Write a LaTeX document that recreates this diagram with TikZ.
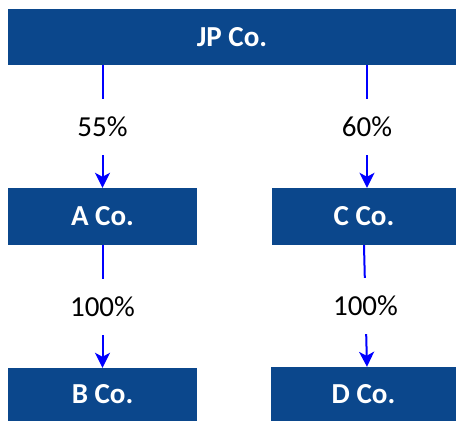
\documentclass[tikz,border=0pt]{standalone}
\usepackage{fontspec}
\setmainfont{Carlito}
\usetikzlibrary{arrows.meta}
\definecolor{boxblue}{RGB}{11,71,140}
\definecolor{linkblue}{RGB}{0,0,255}
\begin{document}
\begin{tikzpicture}[x=1pt,y=-1pt,
  company/.style={fill=boxblue, draw=none, text=white, inner sep=0pt,
    font=\fontsize{29}{32}\selectfont\bfseries},
  conn/.style={draw=linkblue, line width=2pt,
    -{Stealth[length=15pt,width=15pt,inset=4pt]}},
  pct/.style={fill=white, inner sep=0pt, minimum width=70pt, minimum height=56pt,
    text=black, font=\fontsize{29}{32}\selectfont}]
  \useasboundingbox (0,0) rectangle (456,421);
  % ownership boxes
  \node[company, minimum width=448pt, minimum height=56pt] (jp) at (232,37) {JP Co.};
  \node[company, minimum width=189pt, minimum height=57pt] (a) at (102.5,216.5) {A Co.};
  \node[company, minimum width=184pt, minimum height=57pt] (c) at (364,216.5) {C Co.};
  \node[company, minimum width=189pt, minimum height=53pt] (b) at (102.5,394.5) {B Co.};
  \node[company, minimum width=185pt, minimum height=54pt] (d) at (363.5,394) {D Co.};
  % link end points
  \coordinate (cin) at ([xshift=3pt]c.north);
  \coordinate (din) at ([xshift=3.5pt]d.north);
  % ownership links with their shares
  \draw[conn] (jp.south -| a.north) -- node[pct] {55\%} (a.north);
  \draw[conn] (jp.south -| cin) -- node[pct] {60\%} (cin);
  \draw[conn] (a.south) -- node[pct] {100\%} (b.north);
  \draw[conn] (c.south) -- node[pct] {100\%} (din);
\end{tikzpicture}
\end{document}
